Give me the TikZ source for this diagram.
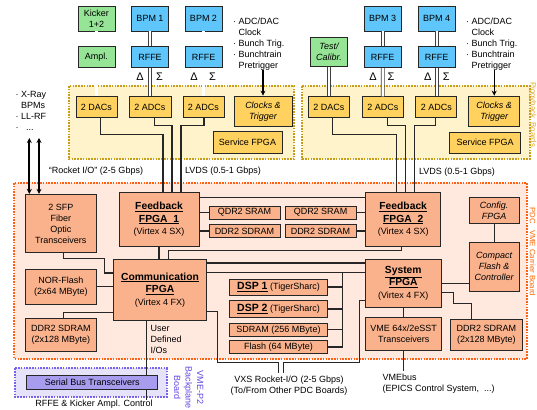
\documentclass[tikz,border=0pt]{standalone}
\usepackage{fontspec}
\setmainfont{Liberation Sans}
\usetikzlibrary{arrows.meta,positioning}
\definecolor{kickgreen}{RGB}{150,228,150}
\definecolor{bpmblue}{RGB}{94,198,250}
\definecolor{pigfill}{RGB}{255,243,204}
\definecolor{pigbox}{RGB}{255,210,95}
\definecolor{pigedge}{RGB}{200,158,24}
\definecolor{pigtext}{RGB}{226,168,40}
\definecolor{carfill}{RGB}{255,232,222}
\definecolor{carbox}{RGB}{250,178,140}
\definecolor{caredge}{RGB}{255,96,20}
\definecolor{cartext}{RGB}{255,102,0}
\definecolor{bpfill}{RGB}{230,226,250}
\definecolor{bpbox}{RGB}{168,156,238}
\definecolor{bpedge}{RGB}{122,98,235}
\definecolor{bptext}{RGB}{100,70,225}

\begin{document}
\begin{tikzpicture}[x=1pt,y=-1pt,font=\fontsize{9}{11}\selectfont,
  box/.style={draw=black!85,line width=0.8pt,align=center,inner sep=1pt},
  itl/.style={font=\fontsize{9}{11}\selectfont\itshape},
  kick/.style={box,fill=kickgreen},
  bpm/.style={box,fill=bpmblue},
  pig/.style={box,fill=pigbox},
  car/.style={box,fill=carbox},
  fpga/.style={car,font=\fontsize{10.3}{12.7}\selectfont},
  gk/.style={font=\fontsize{11}{11}\selectfont,inner sep=0pt},
  note/.style={align=left,inner sep=0pt},
  area/.style={line width=2pt,dash pattern=on 1.6pt off 1.2pt},
  sig/.style={double=white,double distance=2.2pt,line width=0.7pt,draw=black!75},
  bus/.style={line width=1.1pt,draw=black!85},
  ar/.style={-{Stealth[length=5pt,width=5pt]},line width=1.1pt},
  rio/.style={{Stealth[length=5pt,width=5pt]}-{Stealth[length=5pt,width=5pt]},line width=1.7pt},
  side/.style={rotate=-90,anchor=west,inner sep=0pt,font=\fontsize{7.8}{9}\selectfont}]
\useasboundingbox (0,0) rectangle (537,409);

% board areas
\draw[area,draw=pigedge,fill=pigfill] (69,86) rectangle (294,159);
\draw[area,draw=pigedge,fill=pigfill] (302.3,86) rectangle (529.5,159);
\draw[area,draw=caredge,fill=carfill] (14.3,183) rectangle (526.7,359);
\draw[area,draw=bpedge,fill=bpfill] (15,368.3) rectangle (166.7,396.7);

% front ends
\node[kick,minimum width=37pt,minimum height=25pt] (kicker) at (96.4,18.5) {Kicker\\1+2};
\node[bpm,minimum width=37pt,minimum height=25pt] (bpmA) at (150,18.5) {BPM 1};
\node[bpm,minimum width=37pt,minimum height=25pt] (bpmB) at (203.5,18.5) {BPM 2};
\node[kick,minimum width=37pt,minimum height=21pt] (ampl) at (96.4,57.2) {Ampl.};
\node[bpm,minimum width=37pt,minimum height=21pt] (rffeA) at (150,57.2) {RFFE};
\node[bpm,minimum width=37pt,minimum height=21pt] (rffeB) at (203.5,57.2) {RFFE};
\node[kick,itl,minimum width=37pt,minimum height=29pt] (testcal) at (329,52.2) {Test/\\Calibr.};
\node[bpm,minimum width=37pt,minimum height=25pt] (bpmC) at (382.7,18.5) {BPM 3};
\node[bpm,minimum width=37pt,minimum height=25pt] (bpmD) at (436.7,18.5) {BPM 4};
\node[bpm,minimum width=37pt,minimum height=21pt] (rffeC) at (382.7,57.2) {RFFE};
\node[bpm,minimum width=37pt,minimum height=21pt] (rffeD) at (436.7,57.2) {RFFE};

% piggyback boards
\node[pig,minimum width=41pt,minimum height=20.6pt] (dacA) at (96.5,107) {2 DACs};
\node[pig,minimum width=42pt,minimum height=20.6pt] (adcA) at (150,107) {2 ADCs};
\node[pig,minimum width=41pt,minimum height=20.6pt] (adcB) at (203.5,107) {2 ADCs};
\node[pig,itl,minimum width=58pt,minimum height=30.7pt] (clkA) at (263,111.4) {Clocks \&\\Trigger};
\node[pig,minimum width=69pt,minimum height=21.6pt] (svcA) at (247.5,142.5) {Service FPGA};
\node[pig,minimum width=41pt,minimum height=20.6pt] (dacB) at (328.8,107) {2 DACs};
\node[pig,minimum width=41pt,minimum height=20.6pt] (adcC) at (382.8,107) {2 ADCs};
\node[pig,minimum width=41pt,minimum height=20.6pt] (adcD) at (436.3,107) {2 ADCs};
\node[pig,itl,minimum width=51pt,minimum height=30.7pt] (clkB) at (494.2,111.4) {Clocks \&\\Trigger};
\node[pig,minimum width=71.5pt,minimum height=21pt] (svcB) at (485,142.5) {Service FPGA};

% carrier board
\node[car,minimum width=71.7pt,minimum height=58.4pt] (sfp) at (60.8,223.5) {2 SFP\\Fiber\\Optic\\Transceivers};
\node[fpga,minimum width=80pt,minimum height=53.3pt] (fbA) at (159,219.3)
  {\underline{\textbf{Feedback}}\\\underline{\textbf{FPGA\ \ 1}}\\{\fontsize{9}{12.7}\selectfont(Virtex 4 SX)}};
\node[car,minimum width=71pt,minimum height=13.3pt] (qdrA) at (244.5,212.7) {QDR2 SRAM};
\node[car,minimum width=71pt,minimum height=13.3pt] (ddrA) at (244.5,231) {DDR2 SDRAM};
\node[car,minimum width=71pt,minimum height=13.3pt] (qdrB) at (320.5,212.7) {QDR2 SRAM};
\node[car,minimum width=71pt,minimum height=13.3pt] (ddrB) at (320.5,231) {DDR2 SDRAM};
\node[fpga,minimum width=75pt,minimum height=53.3pt] (fbB) at (403.2,219.3)
  {\underline{\textbf{Feedback}}\\\underline{\textbf{FPGA\ \ 2}}\\{\fontsize{9}{12.7}\selectfont(Virtex 4 SX)}};
\node[car,itl,minimum width=50.3pt,minimum height=25.6pt] (cfg) at (494.2,210.5) {Config.\\FPGA};
\node[car,itl,minimum width=50.3pt,minimum height=48.7pt] (cflash) at (494.2,266.7) {Compact\\Flash \&\\Controller};
\node[fpga,minimum width=93.4pt,minimum height=61.7pt] (comm) at (160,289.9)
  {\underline{\textbf{Communication}}\\\underline{\textbf{FPGA}}\\{\fontsize{9}{12.7}\selectfont(Virtex 4 FX)}};
\node[car,minimum width=71.7pt,minimum height=35pt] (nor) at (60.8,286.5) {NOR-Flash\\(2x64 MByte)};
\node[car,minimum width=71.7pt,minimum height=33.4pt] (ddrL) at (60.8,335) {DDR2 SDRAM\\(2x128 MByte)};
\node[car,minimum width=98.4pt,minimum height=16pt] (dspA) at (278.5,287)
  {\underline{\fontsize{10.5}{12}\selectfont\bfseries DSP 1}\ (TigerSharc)};
\node[car,minimum width=98.4pt,minimum height=16.6pt] (dspB) at (278.5,309)
  {\underline{\fontsize{10.5}{12}\selectfont\bfseries DSP 2}\ (TigerSharc)};
\node[car,minimum width=98.4pt,minimum height=12.7pt] (sdram) at (278.5,329.7) {SDRAM (256 MByte)};
\node[car,minimum width=98.4pt,minimum height=12.6pt] (flash) at (278.5,347) {Flash (64 MByte)};
\node[fpga,minimum width=75.3pt,minimum height=48.3pt] (sys) at (403.3,283.2)
  {\underline{\textbf{System}}\\\underline{\textbf{FPGA}}\\{\fontsize{9}{12.7}\selectfont(Virtex 4 FX)}};
\node[car,minimum width=76pt,minimum height=33pt] (vme) at (403.7,334.2) {VME 64x/2eSST\\Transceivers};
\node[car,minimum width=72pt,minimum height=31.7pt] (ddrR) at (486.3,334.8) {DDR2 SDRAM\\(2x128 MByte)};

% backplane
\node[box,fill=bpbox,minimum width=131pt,minimum height=13.3pt] (sbt) at (92.2,382.3) {Serial Bus Transceivers};

% texts
\node[note,anchor=north west] (trigA) at (233,17.3) {·\ ADC/DAC\\\phantom{·\ }Clock\\·\ Bunch Trig.\\·\ Bunchtrain\\\phantom{·\ }Pretrigger};
\node[note,anchor=north west] (trigB) at (466,17.3) {·\ ADC/DAC\\\phantom{·\ }Clock\\·\ Bunch Trig.\\·\ Bunchtrain\\\phantom{·\ }Pretrigger};
\node[note,anchor=north west] (xray) at (15.5,90.7) {·\ X-Ray\\\phantom{·\ }BPMs\\·\ LL-RF\\·\ \ \ ...};
\node[gk] (dltA) at (140,77) {Δ};
\node[gk] (sgmA) at (159.5,77) {Σ};
\node[gk] (dltB) at (194,77) {Δ};
\node[gk] (sgmB) at (212.5,77) {Σ};
\node[gk] (dltC) at (373,77) {Δ};
\node[gk] (sgmC) at (391,77) {Σ};
\node[gk] (dltD) at (427.7,77) {Δ};
\node[gk] (sgmD) at (446.3,77) {Σ};
\node (rocketlbl) at (96,171) {“Rocket I/O” (2-5 Gbps)};
\node (lvdsA) at (223,171) {LVDS (0.5-1 Gbps)};
\node (lvdsB) at (457,171.7) {LVDS (0.5-1 Gbps)};
\node[note,anchor=north west] (udio) at (150.5,325) {User\\Defined\\I/Os};
\node[align=center,inner sep=0pt] (vxs) at (289,386) {VXS Rocket-I/O (2-5 Gbps)\\(To/From Other PDC Boards)};
\node[note,anchor=north west] (vmebus) at (382.5,373.4) {VMEbus\\(EPICS Control System,\ \ ...)};
\node[anchor=base,inner sep=0pt] (ctl) at (94,406.3) {RFFE \& Kicker Ampl. Control};
\node[side,text=pigtext] (piglbl) at (532.6,82) {Piggyback\ \ Boards};
\node[side,text=cartext] (carlbl) at (532.6,207) {PDC\ \ \ VME Carrier Board};
\node[rotate=-90,anchor=north west,align=center,inner sep=0pt,text=bptext,font=\fontsize{9}{11.5}\selectfont] (bplbl) at (203.5,366.5) {VME-P2\\Backplane\\Board};

% analog pairs
\draw[sig] (kicker) -- (ampl);
\draw[sig] (ampl.south) -- (ampl.south |- dacA.north);
\draw[sig] (bpmA) -- (rffeA);
\draw[sig] (rffeA) -- (adcA);
\draw[sig] (bpmB) -- (rffeB);
\draw[sig] (rffeB) -- (adcB);
\draw[sig] (testcal.south) -- (testcal.south |- dacB.north);
\draw[sig] (bpmC) -- (rffeC);
\draw[sig] (rffeC) -- (adcC);
\draw[sig] (bpmD) -- (rffeD);
\draw[sig] (rffeD.south) -- (rffeD.south |- adcD.north);
\draw[ar] (trigA.south -| clkA.north) -- (clkA.north);
\draw[ar] (trigB.south -| clkB.north) -- (clkB.north);

% LVDS links
\draw[bus] ([xshift=4.2pt]dacA.south) -- ++(0,16.7) -| ([xshift=4pt]fbA.north);
\draw[bus] ([xshift=4.3pt]adcA.south) -- ++(0,7.7) -| ([xshift=13pt]fbA.north);
\draw[bus] ([xshift=0.5pt]adcB.south) -- ++(0,7.7) -| ([xshift=22pt]fbA.north);
\draw[bus] ([xshift=3.9pt]dacB.south) -- ++(0,16.7) -| ([xshift=-6.5pt]fbB.north);
\draw[bus] ([xshift=4.5pt]adcC.south) -- ++(0,7.7) -| ([xshift=2.5pt]fbB.north);
\draw[bus] ([xshift=-0.6pt]adcD.south) -- ++(0,7.7) -| ([xshift=11pt]fbB.north);

% rocket i/o
\coordinate (rioA) at (29.3,138);
\coordinate (rioB) at (39,138);
\draw[rio] (rioA) -- (rioA |- sfp.north);
\draw[rio] (rioB) -- (rioB |- sfp.north);

% carrier links
\draw[bus] ([yshift=-5.6pt]fbA.north east) -- ([yshift=-5.6pt]fbB.north west);
\draw[bus] (fbA.east |- qdrA) -- (qdrA.west);
\draw[bus] (fbA.east |- ddrA) -- (ddrA.west);
\draw[bus] (qdrB.east) -- (qdrB.east -| fbB.west);
\draw[bus] (ddrB.east) -- (ddrB.east -| fbB.west);
\draw[bus] (fbA.south) -- (fbA.south |- comm.north);
\draw[bus] ([xshift=-1.5pt]fbB.south) -- ++(0,4.5) -| ([xshift=8.3pt]comm.north);
\draw[bus] ([yshift=-4.3pt]comm.north east) -- ([yshift=-4.3pt]sys.north west);
\draw[bus] ([yshift=-13.5pt]comm.north east) -- ([yshift=-13.5pt]sys.north west);
\coordinate (dspbus) at (342.5,272.5);
\draw[bus] (dspbus) -- (dspbus |- flash.east);
\foreach \m in {dspA,dspB,sdram,flash}
  \draw[bus] (\m.east) -- (\m.east -| dspbus);
\draw[bus] ([xshift=2.5pt]sfp.south) |- ++(41,5.8) |- ([yshift=-14.3pt]comm.north west);
\draw[bus] (nor.east) -- (nor.east -| comm.west);
\draw[bus] ([xshift=2.5pt]ddrL.north) |- ([yshift=9pt]comm.south west);
\draw[bus] (sys.east) -- (sys.east -| cflash.west);
\draw[bus] (cfg) -- (cflash);
\draw[bus] ([yshift=15pt]sys.south east) -- ++(11.7,0) -- ++(0,10.4) -| ([xshift=-14.6pt]ddrR.north);
\draw[bus] (sys.south) -- (sys.south |- vme.north);
\draw[bus,shorten >=2pt] (vme.south) -- (vme.south |- vmebus.north);

% VXS and user I/O
\coordinate (vxsA) at (278.3,373);
\coordinate (vxsB) at (283.3,373);
\draw[bus] ([yshift=10pt]comm.south east) -- ++(10,0) |- ([yshift=10.7pt]vxsA) -- (vxsA);
\draw[bus] ([yshift=7.3pt]sys.south west) -- ++(-5.7,0) |- ([yshift=10.7pt]vxsB) -- (vxsB);
\coordinate (udline) at ([xshift=-13.3pt]comm.south);
\draw[bus] (udline) -- (udline |- sbt.north);
\draw[bus] (udline |- sbt.south) -- (udline |- ctl.north);
\end{tikzpicture}
\end{document}
